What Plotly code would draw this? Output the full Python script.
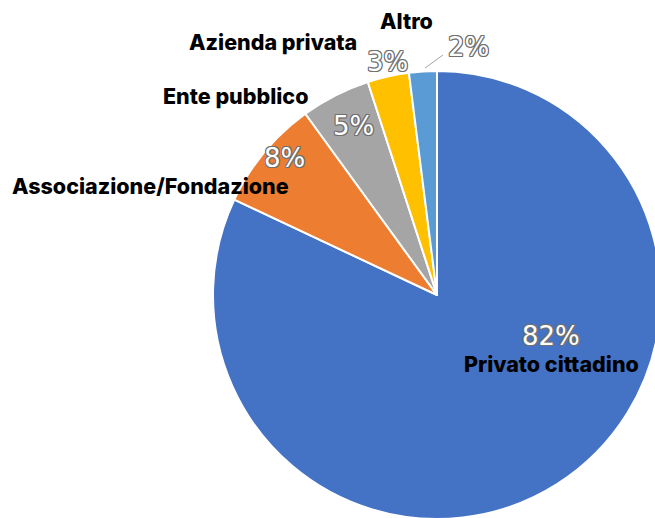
import plotly.graph_objects as go

# Categories and their shares (percent)
categories = ["Privato cittadino", "Associazione/Fondazione", "Ente pubblico",
              "Azienda privata", "Altro"]
shares = [82, 8, 5, 3, 2]
colors = ["#4472C4", "#ED7D31", "#A5A5A5", "#FFC000", "#5B9BD5"]

# Canvas is a little larger than the visible window so the pie can run off the edges
W, H = 680, 530


def px(x, y):
    return x / W, 1 - y / H


# Pie placement (pixel box of the full circle)
cx, cy, r = 437, 295, 224
x0, y0 = px(cx - r, cy + r)
x1, y1 = px(cx + r, cy - r)

fig = go.Figure(go.Pie(
    labels=categories,
    values=shares,
    sort=False,
    direction="clockwise",
    rotation=0,
    marker=dict(colors=colors, line=dict(color="white", width=2)),
    textinfo="none",
    hoverinfo="label+percent",
    showlegend=False,
    domain=dict(x=[x0, x1], y=[y0, y1]),
))

outline = ("-1px -1px 0 #707070, 1px -1px 0 #707070, -1px 1px 0 #707070, "
           "1px 1px 0 #707070, 0 1px 0 #707070, 0 -1px 0 #707070, "
           "1px 0 0 #707070, -1px 0 0 #707070")
pct_font = dict(family="DejaVu Sans", size=26, color="white", shadow=outline)
name_font = dict(family="Inter", size=21.5, color="black", weight=800)

# Positions of percentage labels and category names (pixels)
pct_pos = [(551, 336), (284, 158), (353, 126), (387, 62), (468, 47)]
name_pos = [(551, 364), (150, 186), (235, 96), (273, 42), (406, 21)]

annotations = []
for cat, val, (pxx, pyy), (nx, ny) in zip(categories, shares, pct_pos, name_pos):
    ax, ay = px(pxx, pyy)
    annotations.append(dict(x=ax, y=ay, xref="paper", yref="paper",
                            text=f"{val}%", showarrow=False, font=pct_font,
                            xanchor="center", yanchor="middle"))
    bx, by = px(nx, ny)
    annotations.append(dict(x=bx, y=by, xref="paper", yref="paper",
                            text=cat, showarrow=False, font=name_font,
                            xanchor="center", yanchor="middle"))

# Leader line for the smallest slice
lx0, ly0 = px(425, 68)
lx1, ly1 = px(443, 55)

fig.update_layout(
    width=W, height=H, autosize=False,
    margin=dict(l=0, r=0, t=0, b=0),
    paper_bgcolor="white", plot_bgcolor="white",
    annotations=annotations,
    shapes=[dict(type="line", xref="paper", yref="paper",
                 x0=lx0, y0=ly0, x1=lx1, y1=ly1,
                 line=dict(color="#A5A5A5", width=1))],
)

fig.write_html("out.html",
               post_script="document.body.style.margin='0';"
                           "document.body.style.overflow='hidden';")
